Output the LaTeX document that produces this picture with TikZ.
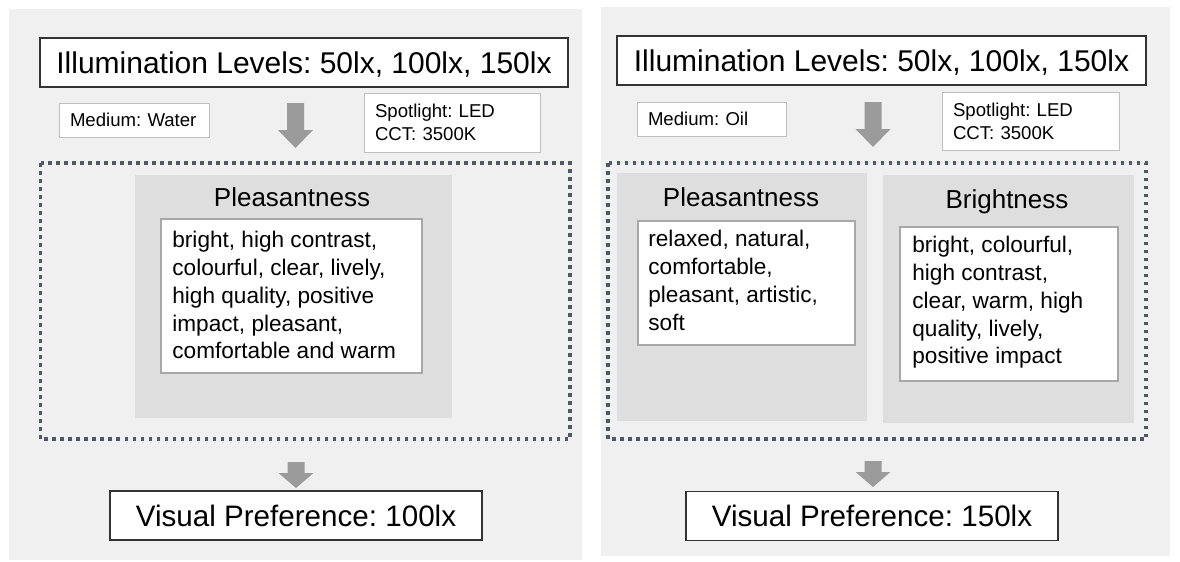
\documentclass[tikz,border=0pt]{standalone}
\usepackage{fontspec}
\setmainfont{Liberation Sans}
\usepackage{tikz}
\frenchspacing
\definecolor{panelgrey}{HTML}{F0F0F0}
\definecolor{boxgrey}{HTML}{DEDEDE}
\definecolor{arrowgrey}{HTML}{9B9B9B}
\definecolor{dotblue}{HTML}{4E5868}
\definecolor{edgegrey}{HTML}{A8A8A8}

\begin{document}
\begin{tikzpicture}[x=0.5pt, y=-0.5pt,
  panel/.style={fill=panelgrey},
  frame/.style={draw=dotblue, line width=1.75pt, dash pattern=on 1.75pt off 2.25pt},
  group/.style={fill=boxgrey},
  bigbox/.style={draw=black!80, line width=0.75pt, fill=white, inner sep=0pt, minimum height=24.5pt, text depth=0pt},
  smallbox/.style={draw=black!25, line width=0.5pt, fill=white, align=left, inner xsep=5.5pt, font=\fontsize{9.3}{11.5}\selectfont},
  heading/.style={anchor=base, font=\fontsize{13}{15}\selectfont},
  listbox/.style={draw=edgegrey, line width=0.6pt, fill=white},
  listtext/.style={anchor=north west, align=left, inner sep=0pt, font=\fontsize{11.3}{13.9}\selectfont},
  fat/.style={fill=arrowgrey}]
\fill[white] (0,0) rectangle (1180,562);
\useasboundingbox (0,0) rectangle (1180,562);

% Panels
\fill[panel] (9,9) rectangle (582,560);
\fill[panel] (601,7) rectangle (1170,556);

% ---- Left: water ----
\node[bigbox, minimum width=264pt, font=\fontsize{15}{18}\selectfont] (levelsW) at (304,62.5) {Illumination Levels: 50lx, 100lx, 150lx};
\node[smallbox, text width=64pt, minimum height=17pt] (mediumW) at (134,120) {Medium: Water};
\node[smallbox, text width=77pt, minimum height=29.5pt] (spotW) at (452,122.5) {Spotlight: LED\\CCT: 3500K};
\fill[fat] (295.5,103) ++(-8.5,0) -- ++(17,0) -- ++(0,27) -- ++(9,0) -- ++(-17.5,18) -- ++(-17.5,-18) -- ++(9,0) -- cycle;

% Attributes
\draw[frame] (40.5,163) rectangle (570,439);
\fill[group] (135,175) rectangle (452,418);
\node[heading] (pleasW) at (292,206) {Pleasantness};
\draw[listbox] (161,219) rectangle (422,373);
\node[listtext] (wordsW) at (172,231) {bright, high contrast,\\colourful, clear, lively,\\high quality, positive\\impact, pleasant,\\comfortable and warm};

% Result
\fill[fat] (296,462) ++(-8.5,0) -- ++(17,0) -- ++(0,11) -- ++(9,0) -- ++(-17.5,15) -- ++(-17.5,-15) -- ++(9,0) -- cycle;
\node[bigbox, minimum width=186pt, font=\fontsize{14.8}{17}\selectfont] (prefW) at (296,515.5) {Visual Preference: 100lx};

% ---- Right: oil ----
\node[bigbox, minimum width=264.5pt, font=\fontsize{15}{18}\selectfont] (levelsO) at (881.5,60.5) {Illumination Levels: 50lx, 100lx, 150lx};
\node[smallbox, text width=63.5pt, minimum height=17pt] (mediumO) at (711.5,119) {Medium: Oil};
\node[smallbox, text width=77.5pt, minimum height=29pt] (spotO) at (1030.5,121) {Spotlight: LED\\CCT: 3500K};
\fill[fat] (873,102) ++(-8.5,0) -- ++(17,0) -- ++(0,27) -- ++(9,0) -- ++(-17.5,18) -- ++(-17.5,-18) -- ++(9,0) -- cycle;

% Attributes
\draw[frame] (608,163) rectangle (1146,439);
\fill[group] (617,173) rectangle (867,421);
\fill[group] (883,175) rectangle (1134,423);
\node[heading] (pleasO) at (741,206) {Pleasantness};
\node[heading] (brightO) at (1007,208) {Brightness};
\draw[listbox] (638,221) rectangle (855,345);
\node[listtext] (wordsO) at (648,230) {relaxed, natural,\\comfortable,\\pleasant, artistic,\\soft};
\draw[listbox] (900,227) rectangle (1118,381);
\node[listtext] (wordsB) at (912,236) {bright, colourful,\\high contrast,\\clear, warm, high\\quality, lively,\\positive impact};

% Result
\fill[fat] (873,461) ++(-8.5,0) -- ++(17,0) -- ++(0,11) -- ++(9,0) -- ++(-17.5,15) -- ++(-17.5,-15) -- ++(9,0) -- cycle;
\node[bigbox, minimum width=186pt, font=\fontsize{14.8}{17}\selectfont] (prefO) at (872,516) {Visual Preference: 150lx};
\end{tikzpicture}
\end{document}
